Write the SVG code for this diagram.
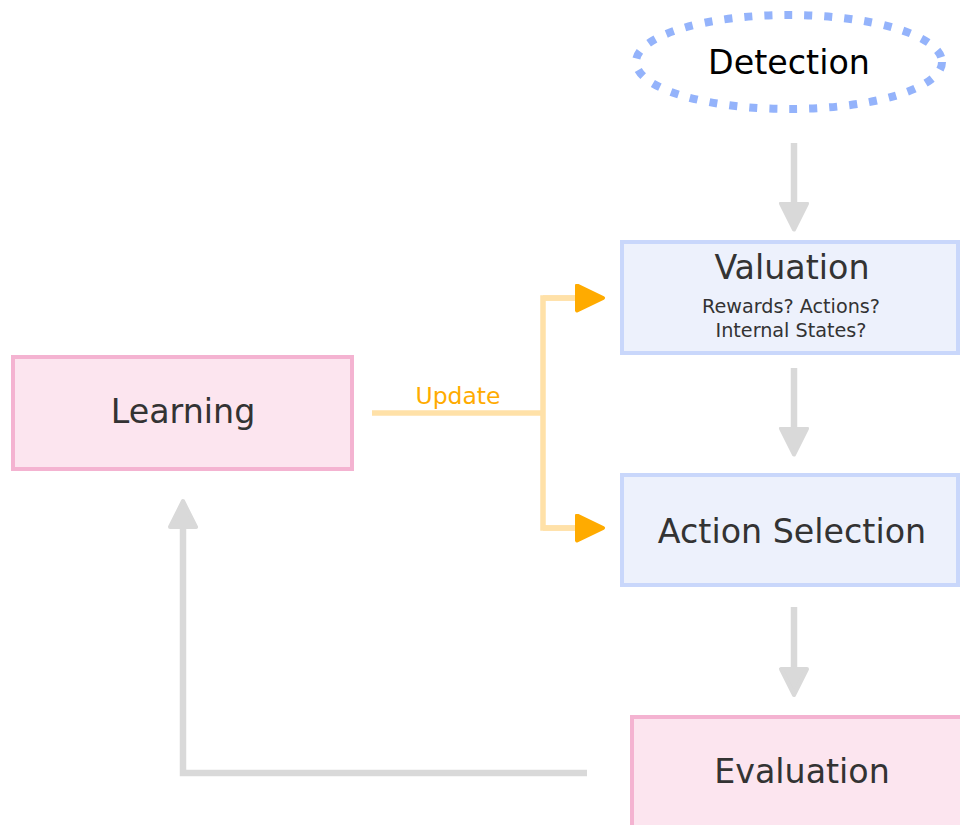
<svg xmlns="http://www.w3.org/2000/svg" width="960" height="825" viewBox="0 0 960 825">
  <style>
    .lbl { font-family: "DejaVu Sans", Verdana, sans-serif; fill: #333333; text-anchor: middle; }
    .big { font-size: 33.3px; }
    .small { font-size: 19.2px; }
    .pink { fill: #fce5ef; stroke: #f4b3d1; stroke-width: 4; }
    .blue { fill: #edf1fc; stroke: #c9d7fb; stroke-width: 4; }
    .gray { fill: none; stroke: #d9d9d9; stroke-width: 6.5; }
    .orange { fill: none; stroke: #ffe1a8; stroke-width: 5.5; }
  </style>
  <defs>
    <marker id="headGray" markerUnits="userSpaceOnUse" markerWidth="31" markerHeight="31" viewBox="0 0 31 31" refX="2" refY="15" orient="auto">
      <path d="M2,2 L28,15 L2,28 Z" fill="#d9d9d9" stroke="#d9d9d9" stroke-width="4" stroke-linejoin="round"/>
    </marker>
    <marker id="headOrange" markerUnits="userSpaceOnUse" markerWidth="31" markerHeight="31" viewBox="0 0 31 31" refX="2" refY="14.5" orient="auto">
      <path d="M2,2 L28,14.5 L2,27 Z" fill="#ffab00" stroke="#ffab00" stroke-width="4" stroke-linejoin="round"/>
    </marker>
  </defs>

  <rect width="960" height="825" fill="#ffffff"/>

  <g id="connectors">
    <path class="gray" d="M794,143 V203.5" marker-end="url(#headGray)"/>
    <path class="gray" d="M794,368 V428.5" marker-end="url(#headGray)"/>
    <path class="gray" d="M794,607 V669" marker-end="url(#headGray)"/>
    <path class="gray" d="M587,773 H183 V527" marker-end="url(#headGray)"/>
    <path class="orange" d="M372,413 H543"/>
    <path class="orange" d="M577,298 H543 V528 H577"/>
    <path class="orange" d="M543,298 H577" marker-end="url(#headOrange)"/>
    <path class="orange" d="M543,528 H577" marker-end="url(#headOrange)"/>
    <text x="458" y="404" font-family="DejaVu Sans, Verdana, sans-serif" font-size="23.5" fill="#ffab00" text-anchor="middle">Update</text>
  </g>

  <g id="detection">
    <ellipse cx="789" cy="62" rx="153" ry="47" fill="#ffffff" stroke="#94b3fb" stroke-width="8" stroke-dasharray="8 12"/>
    <text class="lbl big" x="789" y="74" style="fill:#000000">Detection</text>
  </g>

  <g id="valuation">
    <rect class="blue" x="622" y="242" width="336" height="111"/>
    <text class="lbl big" x="792" y="279">Valuation</text>
    <text class="lbl small" x="791" y="313">Rewards? Actions?</text>
    <text class="lbl small" x="791" y="337">Internal States?</text>
  </g>

  <g id="action-selection">
    <rect class="blue" x="622" y="475" width="336" height="110"/>
    <text class="lbl big" x="792" y="543">Action Selection</text>
  </g>

  <g id="evaluation">
    <rect class="pink" x="632" y="717" width="340" height="112"/>
    <text class="lbl big" x="802" y="783">Evaluation</text>
  </g>

  <g id="learning">
    <rect class="pink" x="13" y="357" width="339" height="112"/>
    <text class="lbl big" x="183" y="423">Learning</text>
  </g>
</svg>
